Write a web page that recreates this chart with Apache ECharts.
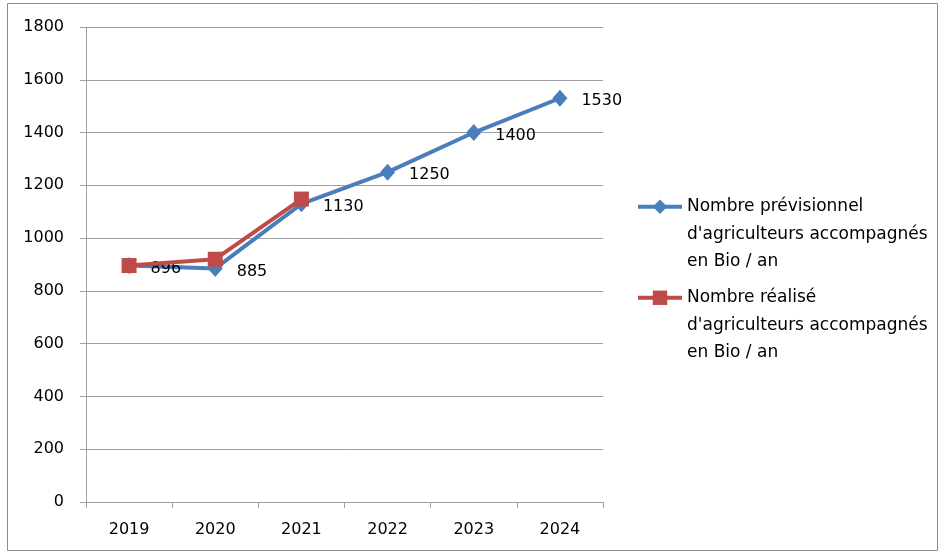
<!DOCTYPE html>
<html>
<head>
<meta charset="utf-8">
<script src="https://cdn.jsdelivr.net/npm/echarts@6/dist/echarts.min.js"></script>
<style>
  html, body { margin: 0; padding: 0; background: #fff; }
  #main { width: 940px; height: 552px; }
</style>
</head>
<body>
<div id="main"></div>
<script>
var years = ["2019", "2020", "2021", "2022", "2023", "2024"];
var prevus = [896, 885, 1130, 1250, 1400, 1530];
var realises = [896, 920, 1148];
var seriesNames = [
  "Nombre prévisionnel\nd'agriculteurs accompagnés\nen Bio / an",
  "Nombre réalisé\nd'agriculteurs accompagnés\nen Bio / an"
];

var chartDom = document.getElementById("main");
var myChart = echarts.init(chartDom);
var font = "DejaVu Sans";
var gray = "#a0a0a0";

// two blank lines before the name so the first line sits level with the icon
var legendCommon = {
  orient: "vertical",
  left: 636,
  padding: 0,
  itemWidth: 44,
  itemHeight: 18,
  itemGap: 0,
  lineStyle: { width: 4 },
  formatter: function (name) {
    return "\n\n" + name;
  },
  textStyle: { fontFamily: font, fontSize: 17, color: "#000", lineHeight: 27.5 }
};

var option = {
  animation: false,
  graphic: [
    {
      type: "rect",
      shape: { x: 7.5, y: 3.5, width: 930, height: 547 },
      style: { fill: "none", stroke: "#8c8c8c", lineWidth: 1 },
      silent: true
    }
  ],
  grid: { left: 86, right: 337, top: 27, bottom: 50 },
  legend: [
    Object.assign({ data: [seriesNames[0]], top: 138 }, legendCommon),
    Object.assign({ data: [seriesNames[1]], top: 229 }, legendCommon)
  ],
  xAxis: {
    type: "category",
    data: years,
    boundaryGap: true,
    axisLine: { lineStyle: { color: gray, width: 1 } },
    axisTick: { show: true, length: 6, lineStyle: { color: gray } },
    axisLabel: { fontFamily: font, fontSize: 16, color: "#000", margin: 20 }
  },
  yAxis: {
    type: "value",
    min: 0,
    max: 1800,
    interval: 200,
    axisLine: { show: true, lineStyle: { color: gray, width: 1 } },
    axisTick: { show: true, length: 6, lineStyle: { color: gray } },
    splitLine: { lineStyle: { color: gray, width: 1 } },
    axisLabel: {
      fontFamily: font,
      fontSize: 16,
      color: "#000",
      margin: 22,
      formatter: function (v) {
        return String(v);
      }
    }
  },
  series: [
    {
      name: seriesNames[0],
      type: "line",
      data: prevus,
      symbol: "diamond",
      symbolSize: [15, 17],
      z: 2,
      itemStyle: { color: "#4a7ebb" },
      lineStyle: { color: "#4a7ebb", width: 4 },
      label: {
        show: true,
        position: "right",
        distance: 14,
        offset: [0, 3],
        fontFamily: font,
        fontSize: 16,
        color: "#000"
      }
    },
    {
      name: seriesNames[1],
      type: "line",
      data: realises,
      symbol: "rect",
      symbolSize: 15,
      z: 3,
      itemStyle: { color: "#be4b48" },
      lineStyle: { color: "#be4b48", width: 4 }
    }
  ]
};

option && myChart.setOption(option);
</script>
</body>
</html>
